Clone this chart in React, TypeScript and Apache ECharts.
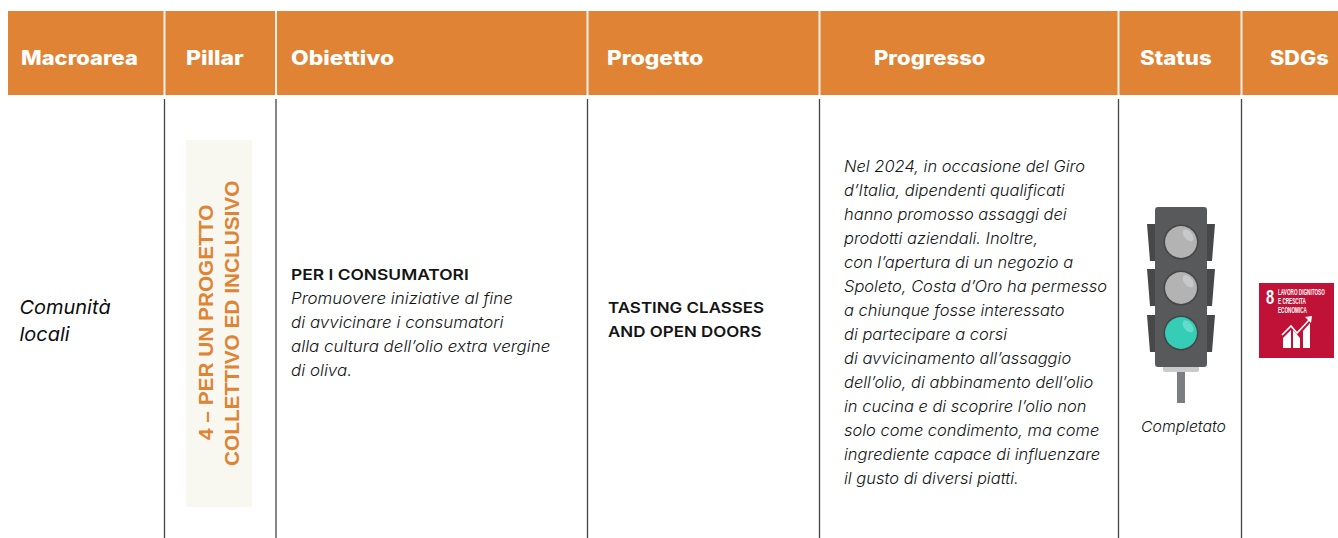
import React, { useEffect, useRef } from "react";
import * as echarts from "echarts";

const headers = ["Macroarea", "Pillar", "Obiettivo", "Progetto", "Progresso", "Status", "SDGs"];
const macroLines = ["Comunità", "locali"];
const pillarLines = ["4 – PER UN PROGETTO", "COLLETTIVO ED INCLUSIVO"];
const goalTitle = "PER I CONSUMATORI";
const goalLines = [
  "Promuovere iniziative al fine",
  "di avvicinare i consumatori",
  "alla cultura dell’olio extra vergine",
  "di oliva.",
];
const projectLines = ["TASTING CLASSES", "AND OPEN DOORS"];
const progressLines = [
  "Nel 2024, in occasione del Giro",
  "d’Italia, dipendenti qualificati",
  "hanno promosso assaggi dei",
  "prodotti aziendali. Inoltre,",
  "con l’apertura di un negozio a",
  "Spoleto, Costa d’Oro ha permesso",
  "a chiunque fosse interessato",
  "di partecipare a corsi",
  "di avvicinamento all’assaggio",
  "dell’olio, di abbinamento dell’olio",
  "in cucina e di scoprire l’olio non",
  "solo come condimento, ma come",
  "ingrediente capace di influenzare",
  "il gusto di diversi piatti.",
];
const statusLabel = "Completato";
const sdgNumber = "8";
const sdgLines = ["LAVORO DIGNITOSO", "E CRESCITA", "ECONOMICA"];

// layout
const headerX = [21, 186, 291, 607, 874, 1140, 1270];
const headerStretch = [1.125, 1.18, 1.17, 1.165, 1.13, 1.14, 1.11];
const dividers = [164.5, 276, 587.5, 819.5, 1118.5, 1241.5];

const ORANGE = "#e08334";
const INK = "#141414";
const BODY = "Inter";

const text = (x: number, y: number, t: string, fontSize: number, stretch: number, extra: any = {}) => ({
  type: "text",
  x,
  y,
  scaleX: stretch,
  silent: true,
  style: {
    text: t,
    fontFamily: BODY,
    fontSize,
    fill: INK,
    verticalAlign: "middle",
    align: "left",
    ...extra,
  },
});

function buildGraphics() {
  const els: any[] = [];
  els.push({ type: "rect", shape: { x: 8, y: 11, width: 1330, height: 84 }, style: { fill: ORANGE } });
  headers.forEach((h, i) => {
    els.push(text(headerX[i], 58, h, 19.5, headerStretch[i], { fill: "#ffffff", fontWeight: 800 }));
  });
  dividers.forEach((x) => {
    els.push({ type: "rect", shape: { x: x - 1, y: 11, width: 2, height: 84 }, style: { fill: "#f6f1ea" } });
    els.push({ type: "line", shape: { x1: x, y1: 99, x2: x, y2: 538 }, style: { stroke: "#444444", lineWidth: 1.3 } });
  });

  macroLines.forEach((l, i) => els.push(text(19.5, 307 + i * 27, l, 19, 1.05, { fontStyle: "italic", fontWeight: 400, fill: "#0c0c0c" })));

  els.push({ type: "rect", shape: { x: 186, y: 140, width: 66, height: 367 }, style: { fill: "#f8f8f0" } });
  [
    [206, 440],
    [232, 466],
  ].forEach(([x, y], i) => {
    els.push({
      type: "text",
      x,
      y,
      rotation: Math.PI / 2,
      scaleX: 1.072,
      silent: true,
      style: {
        text: pillarLines[i],
        fontFamily: "Liberation Sans",
        fontWeight: 700,
        fontSize: 19.4,
        fill: ORANGE,
        align: "left",
        verticalAlign: "middle",
      },
    });
  });

  els.push(text(291, 274, goalTitle, 15, 1.16, { fontWeight: 600 }));
  goalLines.forEach((l, i) => els.push(text(291, 298 + i * 24, l, 16, 1.058, { fontStyle: "italic", fontWeight: 300 })));

  projectLines.forEach((l, i) => els.push(text(608, 307.5 + i * 24, l, 15, 1.13, { fontWeight: 600 })));

  progressLines.forEach((l, i) => els.push(text(844, 166 + i * 24, l, 16, 1.03, { fontStyle: "italic", fontWeight: 300 })));

  els.push({ type: "rect", shape: { x: 1177, y: 372, width: 8, height: 31 }, style: { fill: "#7c7d80" } });
  els.push({ type: "rect", shape: { x: 1163, y: 365, width: 36, height: 7, r: 2 }, style: { fill: "#c9cacb" } });
  [224, 269, 315].forEach((y) => {
    els.push({
      type: "polygon",
      shape: { points: [[1147, y], [1156, y], [1156, y + 37], [1150, y + 37]] },
      style: { fill: "#46484a" },
    });
    els.push({
      type: "polygon",
      shape: { points: [[1215, y], [1206, y], [1206, y + 37], [1212, y + 37]] },
      style: { fill: "#46484a" },
    });
  });
  els.push({ type: "rect", shape: { x: 1155, y: 207, width: 52, height: 160, r: 3 }, style: { fill: "#58595b" } });
  [
    [242, "#b3b3b3", "#c8c8c8"],
    [288, "#b3b3b3", "#c8c8c8"],
    [333, "#35cdb6", "#64dccb"],
  ].forEach(([cy, fill, glare]: any) => {
    els.push({ type: "circle", shape: { cx: 1181, cy, r: 17.5 }, style: { fill: "#454648" } });
    els.push({ type: "circle", shape: { cx: 1181, cy, r: 16 }, style: { fill } });
    els.push({
      type: "ellipse",
      shape: { cx: 1188, cy: cy - 7, rx: 4, ry: 7 },
      rotation: 0.7,
      originX: 1188,
      originY: cy - 7,
      style: { fill: glare },
    });
  });
  els.push(text(1141, 427, statusLabel, 15, 1.055, { fontStyle: "italic", fontWeight: 300 }));

  els.push({ type: "rect", shape: { x: 1259, y: 283, width: 75, height: 75 }, style: { fill: "#c01236" } });
  els.push(text(1266, 297, sdgNumber, 19.5, 0.75, { fill: "#fff", fontWeight: 700, fontFamily: "Liberation Sans" }));
  sdgLines.forEach((l, i) =>
    els.push(text(1278, 292 + i * 9, l, 8.6, 0.54, { fill: "#fff", fontWeight: 700, fontFamily: "Liberation Sans" }))
  );
  els.push({ type: "polygon", shape: { points: [[1283, 338], [1291, 330], [1291, 348], [1283, 348]] }, style: { fill: "#fff" } });
  els.push({ type: "polygon", shape: { points: [[1293, 330], [1300, 338], [1300, 348], [1293, 348]] }, style: { fill: "#fff" } });
  els.push({ type: "polygon", shape: { points: [[1303, 331], [1310, 323], [1310, 348], [1303, 348]] }, style: { fill: "#fff" } });
  els.push({
    type: "polyline",
    shape: { points: [[1282, 335], [1291, 326], [1297, 333], [1310, 319]] },
    style: { stroke: "#fff", lineWidth: 1.6, fill: "none" },
  });
  els.push({ type: "polygon", shape: { points: [[1305, 317], [1312, 316], [1311, 323]] }, style: { fill: "#fff" } });
  return els;
}

export default function App() {
  const ref = useRef<HTMLDivElement>(null);
  useEffect(() => {
    const chart = echarts.init(ref.current!, null, { renderer: "svg" });
    chart.setOption({
      animation: false,
      backgroundColor: "#ffffff",
      graphic: { elements: buildGraphics() },
    });
    return () => chart.dispose();
  }, []);
  return <div ref={ref} style={{ position: "absolute", left: 0, top: 0, width: 1338, height: 538 }} />;
}
